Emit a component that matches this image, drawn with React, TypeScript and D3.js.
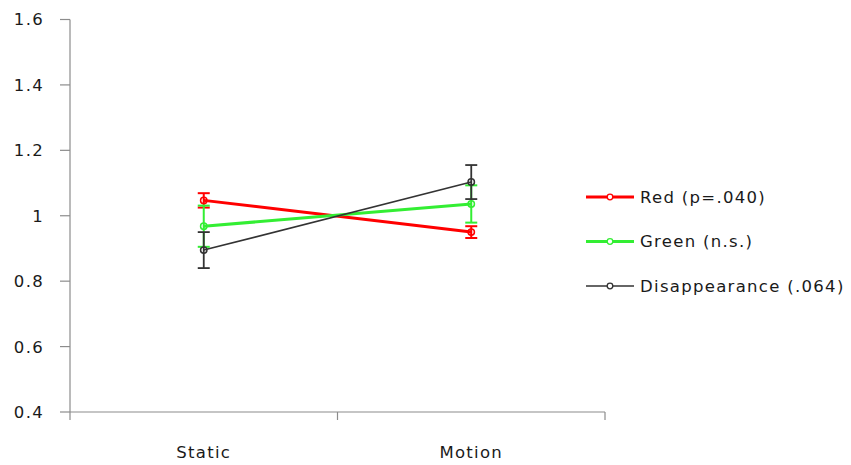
import React from 'react';
import * as d3 from 'd3';

const categories = ['Static', 'Motion'];
const yTicks = [0.4, 0.6, 0.8, 1, 1.2, 1.4, 1.6];

const seriesNames = ['Red (p=.040)', 'Green (n.s.)', 'Disappearance (.064)'];
const redValues = [1.047, 0.95];
const redErrors = [0.022, 0.018];
const greenValues = [0.968, 1.036];
const greenErrors = [0.063, 0.057];
const blackValues = [0.895, 1.103];
const blackErrors = [0.055, 0.052];

const colors = ['#ff0000', '#33ee33', '#333333'];
const widths = [3, 3, 1.6];

const W = 851;
const H = 465;
const font = '"DejaVu Sans", Verdana, sans-serif';

export default function App() {
  const x = d3.scaleBand().domain(categories).range([70, 605]);
  const y = d3.scaleLinear().domain([0.4, 1.6]).range([412, 19.5]);
  const cx = (c: string) => (x(c) as number) + x.bandwidth() / 2;

  const series = [
    { name: seriesNames[0], values: redValues, errors: redErrors },
    { name: seriesNames[1], values: greenValues, errors: greenErrors },
    { name: seriesNames[2], values: blackValues, errors: blackErrors },
  ];

  const line = d3.line<number>()
    .x((d, i) => cx(categories[i]))
    .y(d => y(d));

  const xEdges = [70, ...categories.map(c => (x(c) as number) + x.bandwidth())];

  return (
    <svg width={W} height={H} style={{ position: 'fixed', left: 0, top: 0, background: '#fff' }}>
      {/* axes */}
      <g stroke="#8c8c8c" strokeWidth={1.2}>
        <line x1={70} x2={70} y1={y(1.6)} y2={y(0.4)} />
        <line x1={70} x2={605} y1={y(0.4)} y2={y(0.4)} />
        {yTicks.map(t => (
          <line key={t} x1={60} x2={70} y1={y(t)} y2={y(t)} />
        ))}
        {xEdges.map((e, i) => (
          <line key={i} x1={e} x2={e} y1={y(0.4)} y2={y(0.4) + 8} />
        ))}
      </g>
      <g fontFamily={font} fontSize={16.5} fill="#1a1a1a" letterSpacing={1.3}>
        {yTicks.map(t => (
          <text key={t} x={44} y={y(t)} dy="0.36em" textAnchor="end">{d3.format('~g')(t)}</text>
        ))}
        {categories.map(c => (
          <text key={c} x={cx(c)} y={458} textAnchor="middle">{c}</text>
        ))}
      </g>

      {/* series lines */}
      {series.map((s, si) => (
        <g key={s.name}>
          <path d={line(s.values) as string} fill="none" stroke={colors[si]} strokeWidth={widths[si]} />
        </g>
      ))}

      {/* error bars and markers */}
      {series.map((s, si) => (
        <g key={s.name + '-err'} stroke={colors[si]} strokeWidth={si === 2 ? 1.8 : 2}>
          {s.values.map((v, i) => {
            const px = cx(categories[i]);
            const hi = y(v + s.errors[i]);
            const lo = y(v - s.errors[i]);
            return (
              <g key={i}>
                <line x1={px} x2={px} y1={hi} y2={lo} />
                <line x1={px - 6} x2={px + 6} y1={hi} y2={hi} />
                <line x1={px - 6} x2={px + 6} y1={lo} y2={lo} />
                <circle cx={px} cy={y(v)} r={3.2} fill="none" strokeWidth={1.5} />
              </g>
            );
          })}
        </g>
      ))}

      {/* legend */}
      {series.map((s, si) => {
        const ly = 197 + si * 44.5;
        return (
          <g key={s.name + '-leg'}>
            <line x1={586} x2={634} y1={ly} y2={ly} stroke={colors[si]} strokeWidth={widths[si]} />
            <circle cx={610} cy={ly} r={2.8} fill="#fff" stroke={colors[si]} strokeWidth={1.3} />
            <text x={640} y={ly} dy="0.36em" fontFamily={font} fontSize={16.5} fill="#1a1a1a" letterSpacing={1.3}>{s.name}</text>
          </g>
        );
      })}
    </svg>
  );
}
